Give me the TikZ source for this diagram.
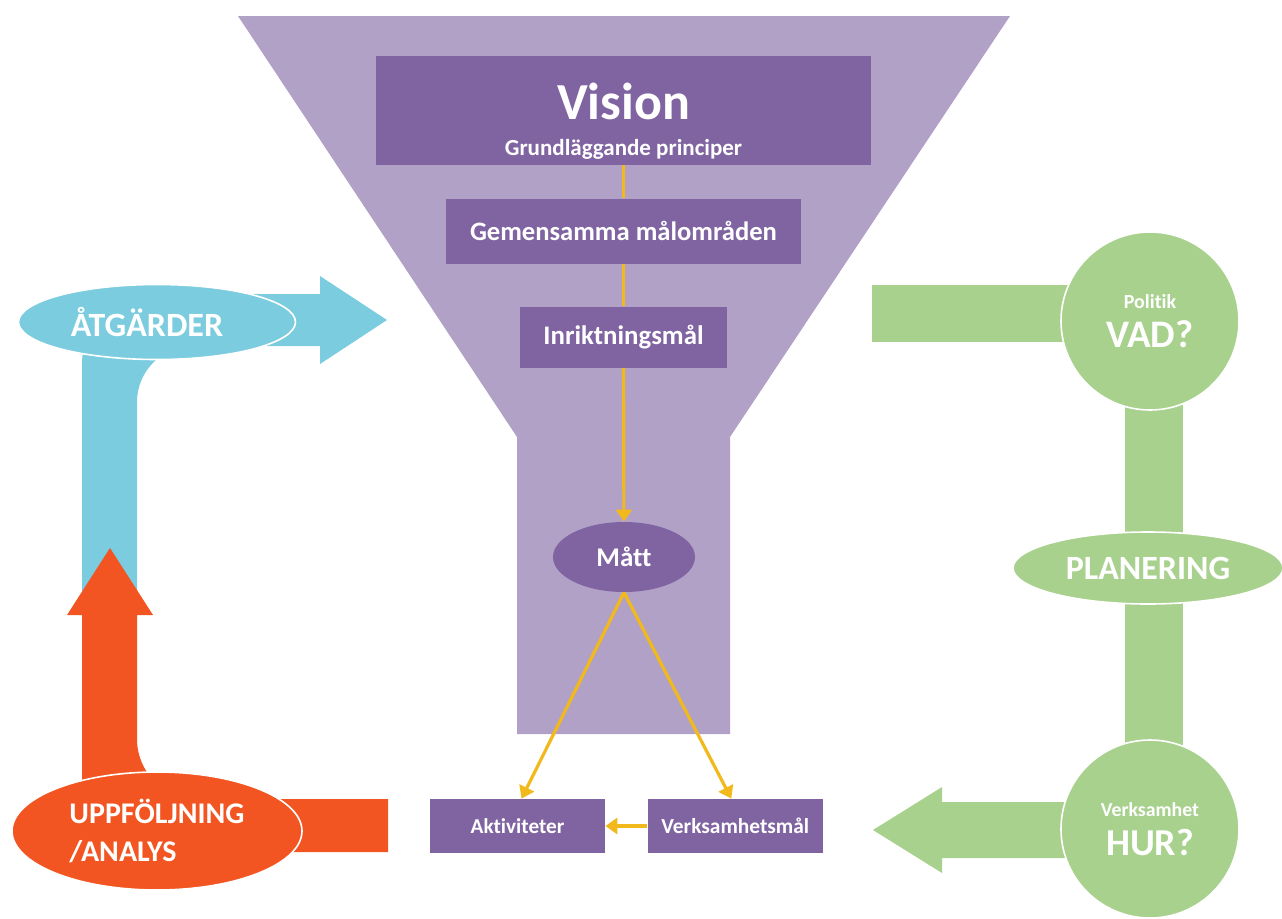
\documentclass[tikz,border=0pt]{standalone}
\usepackage{fontspec}
\setmainfont[Ligatures=NoCommon]{Carlito}
\usetikzlibrary{positioning,shapes.geometric,arrows.meta}
\definecolor{funnel}{HTML}{B1A1C7}
\definecolor{boxpurple}{HTML}{8064A2}
\definecolor{goldline}{HTML}{F2B91C}
\definecolor{sky}{HTML}{7CCCDF}
\definecolor{flame}{HTML}{F25522}
\definecolor{leaf}{HTML}{A9D18E}

\begin{document}
\begin{tikzpicture}[x=0.5pt,y=-0.5pt,
        box/.style={fill=boxpurple,text=white,font=\bfseries,inner sep=0pt},
        gold/.style={draw=goldline,line width=1.6pt},
        goldarrow/.style={gold,-{Triangle[width=8pt,length=6pt]}},
        blob/.style={ellipse,draw=white,line width=0.8pt,text=white,inner sep=0pt},
        ball/.style={circle,draw=white,line width=0.8pt,fill=leaf,text=white,inner sep=0pt,minimum size=89pt,align=center}]
    \useasboundingbox (0,0) rectangle (1282,918);
    % funnel
    \fill[funnel] (238,16) -- (1010,16) -- (730,437) -- (730,734) -- (517,734) -- (517,437) -- cycle;
    \node[box,minimum width=247.5pt,minimum height=54.5pt,align=center] (vision) at (623.5,110.5)
        {\fontsize{26}{28}\selectfont\rule{0pt}{29pt}Vision\\[6pt]\fontsize{11.5}{13}\selectfont Grundläggande principer};
    \node[box,minimum width=177.5pt,minimum height=32.5pt,below=16.5pt of vision,font=\bfseries\fontsize{13.3}{15}\selectfont] (gem) {Gemensamma målområden};
    \node[box,minimum width=103.5pt,minimum height=30.5pt,below=21pt of gem,font=\bfseries\fontsize{13.4}{15}\selectfont] (inr) {Inriktningsmål};
    \node[box,ellipse,minimum width=71pt,minimum height=35pt,font=\bfseries\fontsize{13.5}{15}\selectfont] (matt) at (624,557) {Mått};
    \node[box,minimum width=87.5pt,minimum height=27pt,font=\bfseries\fontsize{10.6}{12}\selectfont] (akt) at (517.5,826) {Aktiviteter};
    \node[box,minimum width=87.5pt,minimum height=27pt,right=21pt of akt,font=\bfseries\fontsize{10.7}{12}\selectfont] (verk) {Verksamhetsmål};

    \draw[gold] (vision) -- (gem);
    \draw[gold] (gem) -- (inr);
    \draw[goldarrow] (inr) -- (matt);
    \draw[goldarrow] (matt.south) -- ([xshift=2pt]akt.north);
    \draw[goldarrow] (matt.south) -- ([xshift=-2pt]verk.north);
    \draw[goldarrow] (verk) -- (akt);

    % left loop
    \fill[sky] (82,600) [rounded corners=35pt] -- (82,294) [sharp corners] -- (320,294) -- (320,276) -- (387,320)
        -- (320,364) -- (320,346) [rounded corners=28pt] -- (137,346) [sharp corners] -- (137,600) -- cycle;
    \fill[flame] (388,799) [rounded corners=30pt] -- (137,799) [sharp corners] -- (137,615) -- (153,615) -- (110,548)
        -- (67,615) -- (82,615) [rounded corners=35pt] -- (82,852) [sharp corners] -- (388,852) -- cycle;
    \node[blob,fill=sky,minimum width=138.5pt,minimum height=37.5pt,font=\bfseries\fontsize{17}{19}\selectfont] (atg) at (157,322) {ÅTGÄRDER\hspace*{10pt}};
    \node[blob,fill=flame,minimum width=145pt,minimum height=59pt,align=left,font=\bfseries\fontsize{15}{19}\selectfont] (upp) at (157,831) {UPPFÖLJNING\\/ANALYS};

    % right loop
    \fill[leaf] (872,285) rectangle (1150,342);
    \fill[leaf] (1125,321) rectangle (1183,829);
    \fill[leaf] (1150,802) -- (942,802) -- (942,787) -- (873,830) -- (942,873) -- (942,858) -- (1150,858) -- cycle;
    \node[ball] (vad) at (1150,321)
        {\fontsize{10}{11}\selectfont\bfseries Politik\\[5pt]\fontsize{19.5}{21}\selectfont\bfseries VAD?};
    \node[blob,fill=leaf,minimum width=135pt,minimum height=36pt,font=\bfseries\fontsize{17}{19}\selectfont] (plan) at (1148,568) {PLANERING};
    \node[ball] (hur) at (1150,829)
        {\fontsize{9.9}{11}\selectfont\bfseries Verksamhet\\[5pt]\fontsize{19}{21}\selectfont\bfseries HUR?};
\end{tikzpicture}
\end{document}
